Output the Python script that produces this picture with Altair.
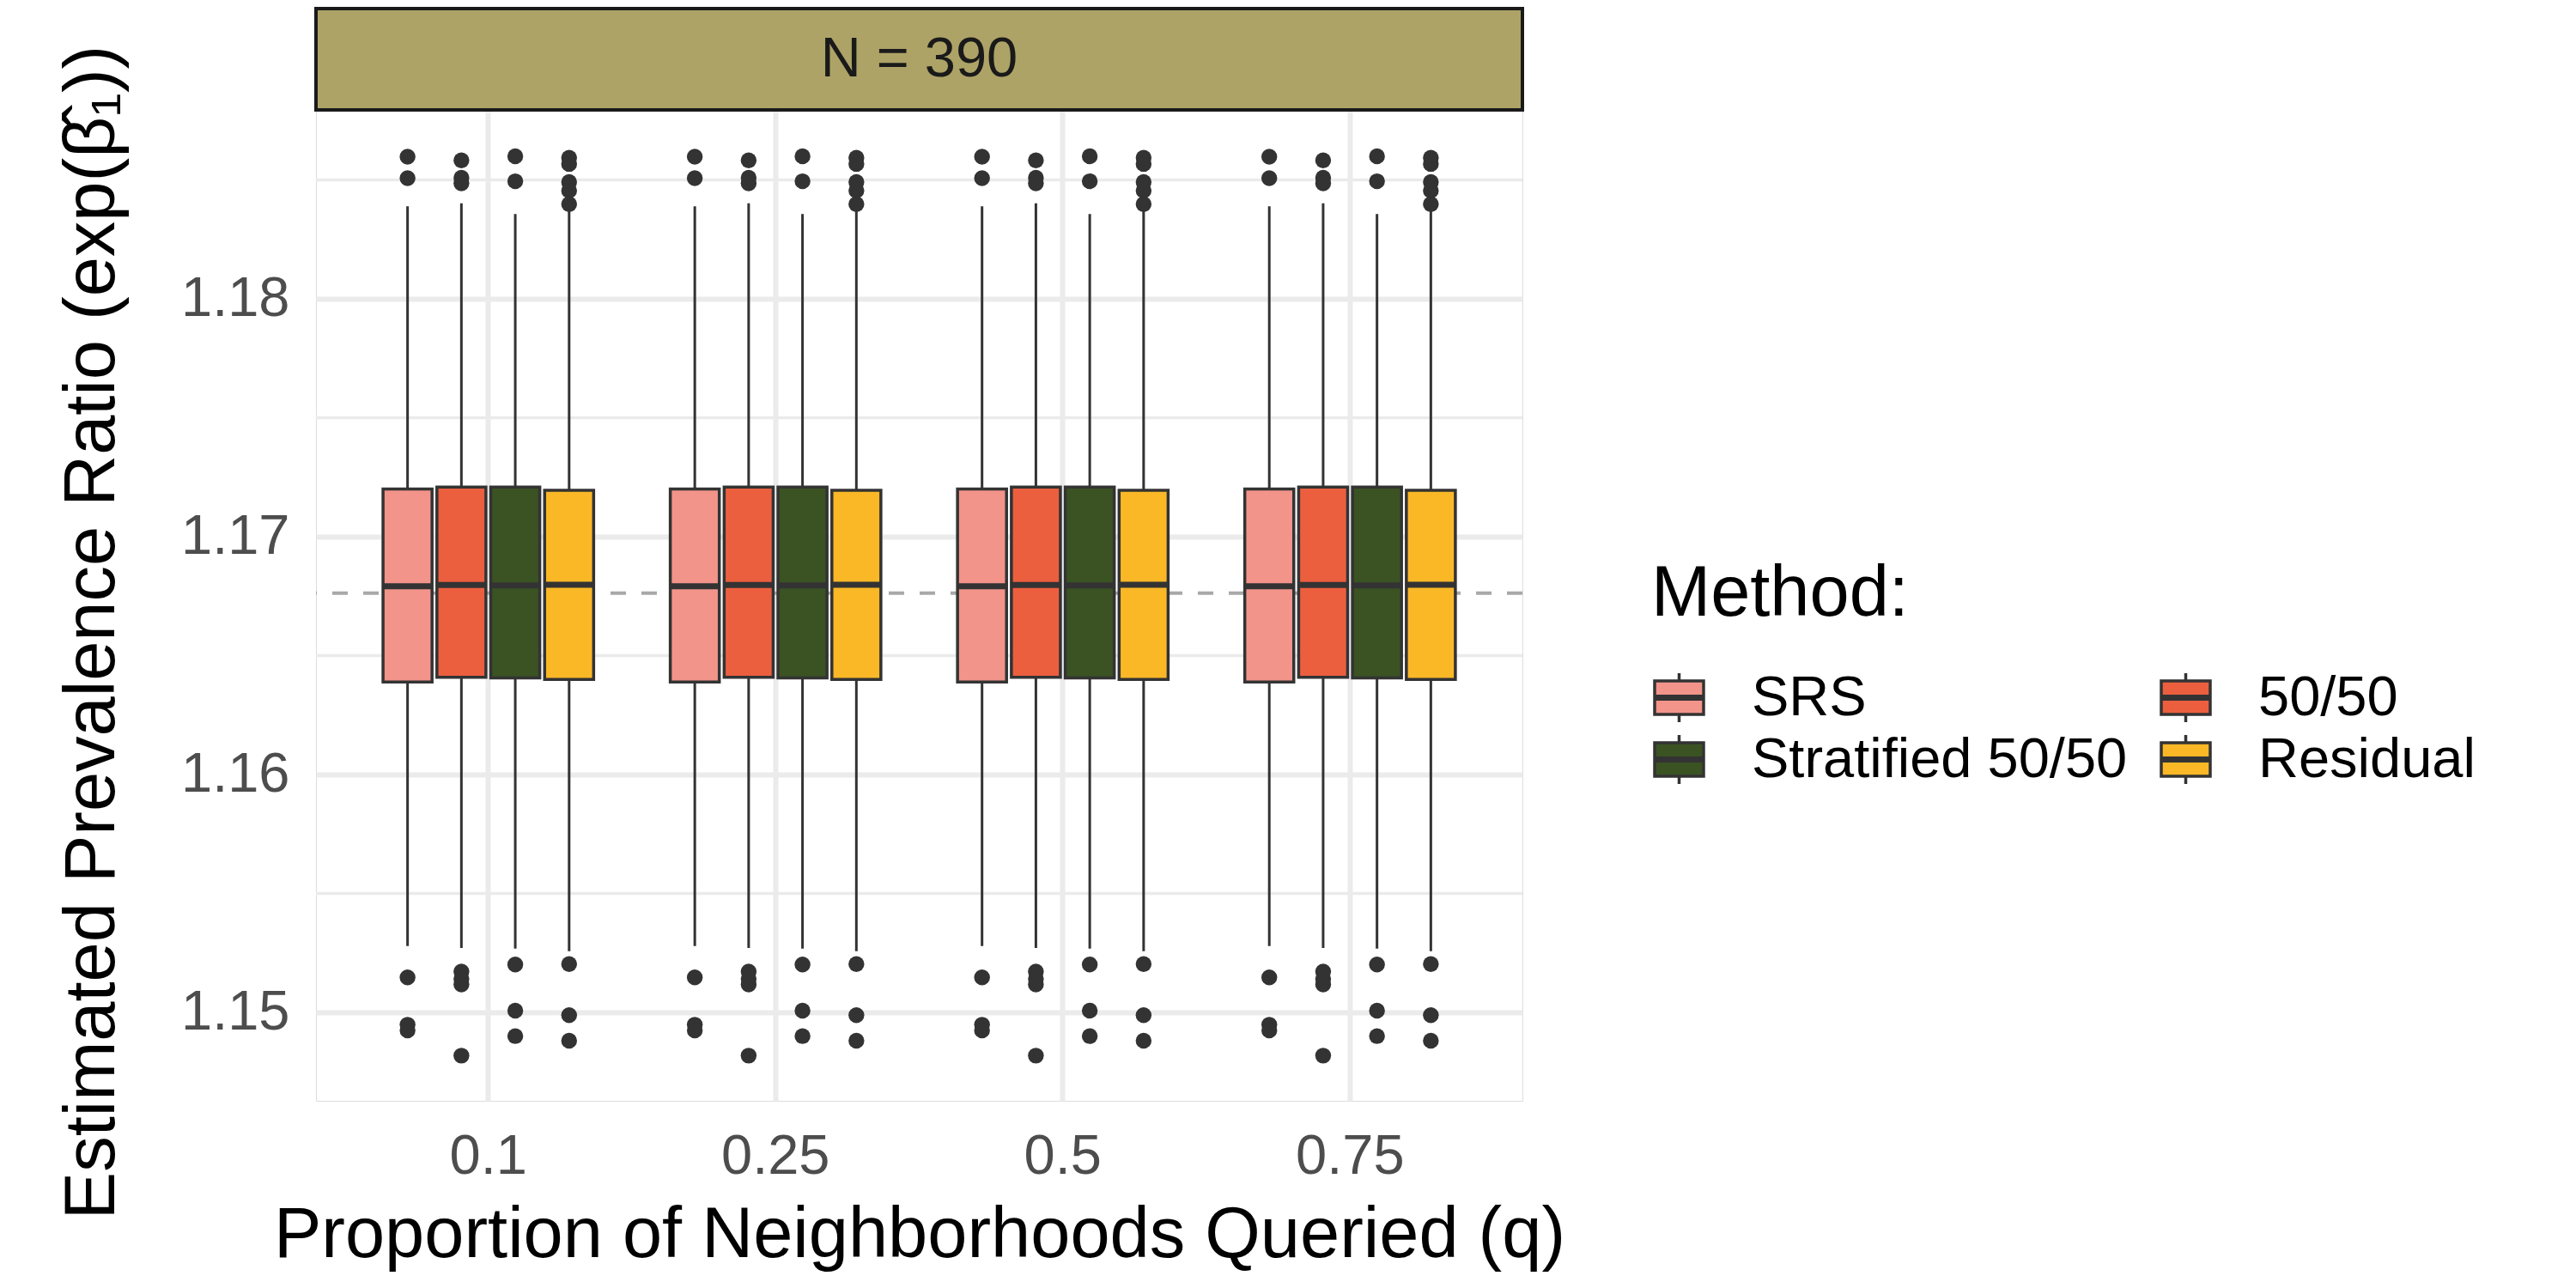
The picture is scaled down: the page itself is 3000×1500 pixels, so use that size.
import altair as alt
import pandas as pd

# ---------------- data ----------------
q_levels = ["0.1", "0.25", "0.5", "0.75"]
methods = ["SRS", "50/50", "Stratified 50/50", "Residual"]
method_colors = ["#F2948A", "#EB5F3F", "#3B5323", "#FAB826"]
facet_label = ["N = 390"]

lower_whisker = [1.15279, 1.15271, 1.15268, 1.15257]
q1_values = [1.16389, 1.16409, 1.16406, 1.16400]
median_values = [1.16791, 1.16797, 1.16795, 1.16798]
q3_values = [1.17200, 1.17208, 1.17208, 1.17195]
upper_whisker = [1.18389, 1.18401, 1.18356, 1.18380]

outliers_srs = [1.18597, 1.18507, 1.15147, 1.14948, 1.14924]
outliers_5050 = [1.18582, 1.18509, 1.18485, 1.15171, 1.15141, 1.15117, 1.14818]
outliers_strat = [1.18599, 1.18494, 1.15201, 1.15007, 1.14900]
outliers_resid = [1.18593, 1.18567, 1.18491, 1.18455, 1.18398, 1.15203, 1.14988, 1.14881]

true_value = [1.16762]
y_major = [1.15, 1.16, 1.17, 1.18]
y_minor = [1.155, 1.165, 1.175, 1.185]
y_domain = [1.14628, 1.18794]

# ---------------- tables ----------------
stats = pd.DataFrame([
    dict(q=q, method=m, lw=lower_whisker[i], q1=q1_values[i], med=median_values[i],
         q3=q3_values[i], uw=upper_whisker[i])
    for q in q_levels for i, m in enumerate(methods)
])
outlier_lists = [outliers_srs, outliers_5050, outliers_strat, outliers_resid]
outl = pd.DataFrame([
    dict(q=q, method=m, value=v)
    for q in q_levels for m, vals in zip(methods, outlier_lists) for v in vals
])
minor_df = pd.DataFrame({"v": y_minor})
ref_df = pd.DataFrame({"v": true_value})
strip_df = pd.DataFrame({"label": facet_label})

# ---------------- styling ----------------
FONT = "Liberation Sans"
W, H = 1405, 1154
GRID = "#EBEBEB"
DARK = "#333333"
ytitle = "Estimated Prevalence Ratio (exp(\u03b2\u0302\u2081))"
xtitle = "Proportion of Neighborhoods Queried (q)"

xaxis = alt.Axis(labelAngle=0, bandPosition=0.5, ticks=False, domain=False, grid=True,
                 gridColor=GRID, gridWidth=6, labelFont=FONT, labelFontSize=65,
                 labelColor="#4D4D4D", labelPadding=33, titleFont=FONT, titleFontSize=83,
                 titleFontWeight="normal", titleColor="black", titlePadding=18)
yaxis = alt.Axis(values=y_major, format=".2f", ticks=False, domain=False, grid=True,
                 gridColor=GRID, gridWidth=6, labelFont=FONT, labelFontSize=65,
                 labelColor="#4D4D4D", labelPadding=31, titleFont=FONT, titleFontSize=83,
                 titleFontWeight="normal", titleColor="black", titlePadding=61,
                 titleY=608)

xscale = alt.Scale(domain=q_levels, paddingInner=0.25, paddingOuter=0.225)
yscale = alt.Scale(domain=y_domain, nice=False, zero=False)


def X():
    return alt.X("q:N", sort=q_levels, scale=xscale, axis=xaxis, title=xtitle)


def XO():
    return alt.XOffset("method:N", sort=methods,
                       scale=alt.Scale(domain=methods, paddingInner=0.09, paddingOuter=0.045))


def Y(field):
    return alt.Y(field, scale=yscale, axis=yaxis, title=ytitle)


legend_path = ("M-1,-0.684H1V0.684H-1Z M-1,-0.06H1 M-1,0H1 M-1,0.06H1 "
               "M0,-0.684V-1 M0,0.684V1")

minor = alt.Chart(minor_df).mark_rule(color=GRID, strokeWidth=3.5).encode(y=Y("v:Q"))
refline = alt.Chart(ref_df).mark_rule(color="#A8A8A8", strokeWidth=4, strokeDash=[18, 18]).encode(y=Y("v:Q"))

whisk = alt.Chart(stats).mark_rule(color=DARK, strokeWidth=3).encode(
    x=X(), xOffset=XO(), y=Y("lw:Q"), y2="uw:Q")

boxes = alt.Chart(stats).mark_bar(stroke=DARK, strokeWidth=3.5, opacity=1).encode(
    x=X(), xOffset=XO(), y=Y("q1:Q"), y2="q3:Q",
    fill=alt.Fill("method:N", sort=methods,
                  scale=alt.Scale(domain=methods, range=method_colors),
                  legend=alt.Legend(orient="none", legendX=1555, legendY=523, columns=2,
                                    direction="horizontal",
                                    title="Method:", titleFont=FONT, titleFontSize=83,
                                    titleFontWeight="normal", titleColor="black",
                                    titlePadding=46, titleLimit=2000,
                                    labelFont=FONT, labelFontSize=65, labelLimit=2000,
                                    labelColor="black", labelOffset=52,
                                    symbolType=legend_path, symbolSize=3249,
                                    symbolStrokeColor=DARK, symbolStrokeWidth=3.5,
                                    symbolOpacity=1, rowPadding=1, columnPadding=32)))

medians = alt.Chart(stats).mark_tick(color=DARK, orient="horizontal", size=57, thickness=7, opacity=1).encode(
    x=X(), xOffset=XO(), y=Y("med:Q"))

points = alt.Chart(outl).mark_circle(color=DARK, size=340, opacity=1).encode(
    x=X(), xOffset=XO(), y=Y("value:Q"))

strip = alt.Chart(strip_df).mark_rect(fill="#ADA366", stroke="#1A1A1A", strokeWidth=4).encode(
    x=alt.value(0), x2=alt.value(W), y=alt.value(-118), y2=alt.value(0))
strip_text = alt.Chart(strip_df).mark_text(font=FONT, fontSize=65, color="#1A1A1A",
                                           align="center", baseline="middle").encode(
    x=alt.value(W / 2), y=alt.value(-59), text="label:N")

chart = alt.layer(minor, refline, whisk, boxes, medians, points, strip, strip_text).properties(
    width=W, height=H, padding={"left": 58, "top": 0, "right": 20, "bottom": 10}
).configure_view(strokeWidth=0).configure(background="white")

chart.save("out.html", embed_options={"renderer": "svg", "actions": False})
